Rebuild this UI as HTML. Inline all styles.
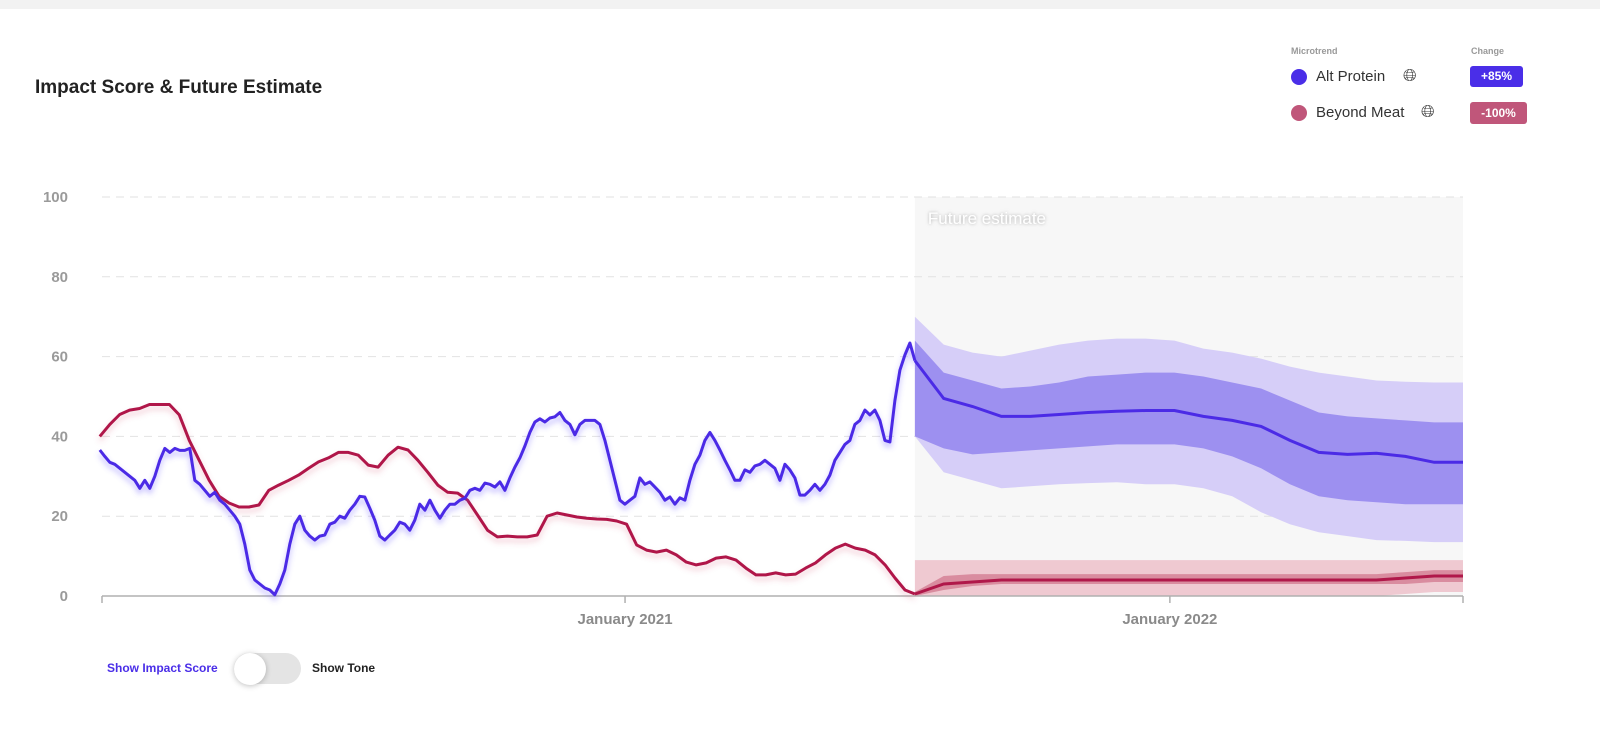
<!DOCTYPE html>
<html><head><meta charset="utf-8">
<style>
body{margin:0;width:1600px;height:733px;background:#fff;font-family:"Liberation Sans",sans-serif;position:relative;overflow:hidden}
.abs{position:absolute}
</style></head><body>
<div class="abs" style="left:0;top:0;width:1600px;height:9px;background:#f2f2f2"></div>
<div class="abs" style="left:35px;top:77px;font-size:19px;font-weight:bold;color:#222">Impact Score &amp; Future Estimate</div>

<div class="abs" style="left:1270px;top:30px;width:300px;height:120px">
  <div class="abs" style="left:21px;top:16px;font-size:9px;color:#999;font-weight:bold">Microtrend</div>
  <div class="abs" style="left:201px;top:16px;font-size:9px;color:#999;font-weight:bold">Change</div>
  <div class="abs" style="left:21px;top:37px;height:20px;width:150px">
    <div class="abs" style="left:0;top:2px;width:16px;height:16px;border-radius:50%;background:#4a2ee8"></div>
    <div class="abs" style="left:25px;top:1px;font-size:15px;color:#333">Alt Protein</div>
    <div class="abs" style="left:112px;top:-1px;font-size:17px;color:#333">🌐︎</div>
  </div>
  <div class="abs" style="left:200px;top:36px;width:53px;height:21px;border-radius:3px;background:#4a2ee8;color:#fff;font-size:12px;font-weight:bold;text-align:center;line-height:21px">+85%</div>
  <div class="abs" style="left:21px;top:73px;height:20px;width:160px">
    <div class="abs" style="left:0;top:2px;width:16px;height:16px;border-radius:50%;background:#c0567a"></div>
    <div class="abs" style="left:25px;top:1px;font-size:15px;color:#333">Beyond Meat</div>
    <div class="abs" style="left:130px;top:-1px;font-size:17px;color:#333">🌐︎</div>
  </div>
  <div class="abs" style="left:200px;top:72px;width:57px;height:22px;border-radius:3px;background:#c0567a;color:#fff;font-size:12px;font-weight:bold;text-align:center;line-height:22px">-100%</div>
</div>

<svg class="abs" id="chart" style="left:0;top:0" width="1600" height="733" xmlns="http://www.w3.org/2000/svg">
<defs>
<filter id="glowB" x="-10%" y="-20%" width="120%" height="140%"><feDropShadow dx="0" dy="4" stdDeviation="3" flood-color="#6a5cff" flood-opacity="0.45"/></filter>
<filter id="glowR" x="-10%" y="-20%" width="120%" height="140%"><feDropShadow dx="0" dy="4" stdDeviation="3" flood-color="#d05070" flood-opacity="0.3"/></filter>
<filter id="ts"><feDropShadow dx="0" dy="0" stdDeviation="1.5" flood-color="#999" flood-opacity="0.8"/></filter>
</defs>
</svg>

<div class="abs" style="left:107px;top:661px;font-size:12px;font-weight:bold;color:#4a2ee8">Show Impact Score</div>
<div class="abs" style="left:234px;top:653px;width:67px;height:31px;border-radius:16px;background:#e4e4e4">
  <div class="abs" style="left:0;top:0;width:32px;height:32px;border-radius:50%;background:#fff;box-shadow:0 1px 6px rgba(0,0,0,0.25)"></div>
</div>
<div class="abs" style="left:312px;top:661px;font-size:12px;font-weight:bold;color:#222">Show Tone</div>

<script>
const yTicks=[0,20,40,60,80,100];
const xTickDates=[2020.04,2021.0,2022.0,2022.538];
const xTickLabels=["","January 2021","January 2022",""];
const histStart=2020.036, futureStart=2021.532, futureEnd=2022.538;
const altProtein=[36.6,35,33.5,33,32,31,30,29,27,29,27,30,34,37,36,37,36.5,36.5,37,29,28,26.5,25,26,24,23,21.5,20,18,13,6.5,4,3,2,1.5,0.3,3,6.5,13,18,20,16.5,15,14,15,15.3,18,18.5,20,19.5,21.5,23,25,24.8,22,19,15,14,15.3,16.5,18.5,18,16.5,19,23,21.5,24,21.5,19.5,21.5,23,23,24,24.5,26.5,27,26.5,28.3,28,27.3,28.6,26.5,29.6,32.3,34.6,37.6,41,43.6,44.4,43.6,44.6,44.9,46,44,43,40.4,43,44,44,44,43,39,34,29,24,23,24,25,29.6,28,28.6,27.3,26,24,24.8,23,24.6,24,29,33,35.3,39,41,39,36.6,34,31.6,29,29,31.6,31,32.6,33,34,33,32,29,33,31.6,29.6,25.3,25.3,26.5,28,26.5,28,30.3,34,36,38,39,43,44,46.6,45.4,46.6,44,39,38.6,49,56.6,60.4,63.4,59];
const beyondMeat=[40,43,45.5,46.6,47,48,48,48,45.4,39,34,29,25,23.3,22.3,22.3,22.8,26.5,27.8,29,30.3,32,33.6,34.6,36,36,35.3,32.8,32.3,35.3,37.3,36.6,34,31,27.8,26,25.8,24,20.3,16.5,14.8,15,14.8,14.8,15.3,20,20.8,20.3,19.8,19.5,19.3,19.2,18.8,18,12.8,11.5,11,11.5,10.3,8.5,7.8,8.3,9.5,9.8,9,7,5.3,5.3,5.8,5.3,5.5,7,8.3,10.3,12,13,12,11.5,10.3,7.8,4.5,1.5,0.5];
const altMedian=[59,49.5,47.5,45,45,45.5,46,46.3,46.5,46.5,45,44,42.5,39,36,35.5,35.8,35,33.5,33.5];
const altInnerHi=[64,56,54,52,52.5,53.5,55,55.5,56,56,55,53.5,52,49,46,45,44.5,44,43.5,43.5];
const altInnerLo=[40,37,35.5,36,36.5,37,37.5,38,38,38,37,35,32,28,25,24,23.5,23,23,23];
const altOuterHi=[70,63,61,60,61.5,63,64,64.5,64.5,64,62,61,59.5,57.5,56,55,54,53.7,53.5,53.5];
const altOuterLo=[40,31,29,27,27.5,28,28.3,28.5,28,28,27,25,21,18,16,15,14,13.8,13.5,13.5];
const bmMedian=[0.5,3,3.5,4,4,4,4,4,4,4,4,4,4,4,4,4,4,4.5,5,5];
const bmInnerHi=[1,5,5.5,5.5,5.5,5.5,5.5,5.5,5.5,5.5,5.5,5.5,5.5,5.5,5.5,5.5,5.5,6,6.5,6.5];
const bmInnerLo=[0,1.5,2.5,3,3,3,3,3,3,3,3,3,3,3,3,3,3,3,3.5,3.5];
const bmOuterHi=[9,9,9,9,9,9,9,9,9,9,9,9,9,9,9,9,9,9,9,9];
const bmOuterLo=[0,0,0,0,0,0,0,0,0,0,0,0,0,0,0,0,0,0.5,1,1];

const X0=102,X1=1463,Y0=596,Y1=197,T0=2020.04,T1=2022.538;
const x=t=>X0+(t-T0)/(T1-T0)*(X1-X0);
const y=v=>Y0-v/100*(Y0-Y1);
const svg=document.getElementById('chart');
const NS='http://www.w3.org/2000/svg';
function mk(tag,attrs){const e=document.createElementNS(NS,tag);for(const k in attrs)e.setAttribute(k,attrs[k]);svg.appendChild(e);return e;}
const tHist=(arr,i)=>histStart+i*(futureStart-histStart)/(arr.length-1);
const tFut=(arr,i)=>futureStart+i*(futureEnd-futureStart)/(arr.length-1);
const linePath=(arr,tf)=>arr.map((v,i)=>(i?'L':'M')+x(tf(arr,i)).toFixed(1)+','+y(v).toFixed(1)).join('');
const bandPath=(hi,lo)=>linePath(hi,tFut)+lo.map((v,i)=>i).reverse().map(i=>'L'+x(tFut(lo,i)).toFixed(1)+','+y(lo[i]).toFixed(1)).join('')+'Z';

const fut=mk('rect',{x:x(futureStart),y:Y1,width:X1-x(futureStart),height:Y0-Y1,fill:'#f7f7f7'});



yTicks.forEach(v=>{
  if(v>0){const g=mk('line',{x1:X0,x2:X1,y1:y(v),y2:y(v),stroke:'#e2e2e2','stroke-width':1,'stroke-dasharray':'8,6'});
  
  }
  const t=mk('text',{x:68,y:y(v)+5,'text-anchor':'end','font-size':15,'font-weight':'bold',fill:'#9a9a9a','font-family':'Liberation Sans, sans-serif'});
  t.textContent=v;
  
  
});

const fl=mk('text',{x:x(futureStart)+13,y:224,'font-size':17,fill:'#fff',filter:'url(#ts)','font-family':'Liberation Sans, sans-serif'});
fl.textContent='Future estimate';



[[altOuterHi,altOuterLo,'#d6cef8','alt-outer-band'],[altInnerHi,altInnerLo,'#9d90f0','alt-inner-band'],[bmOuterHi,bmOuterLo,'#efc9d1','bm-outer-band'],[bmInnerHi,bmInnerLo,'#d98c9f','bm-inner-band']].forEach(b=>{
  const p=mk('path',{d:bandPath(b[0],b[1]),fill:b[2]});
  
  
});

const ax=mk('line',{x1:X0,x2:X1,y1:Y0,y2:Y0,stroke:'#b0b0b0','stroke-width':1.5});


xTickDates.forEach((d,i)=>{
  const tk=mk('line',{x1:x(d),x2:x(d),y1:Y0,y2:Y0+7,stroke:'#b0b0b0','stroke-width':1.5});
  
  
  if(xTickLabels[i]){const t=mk('text',{x:x(d),y:624,'text-anchor':'middle','font-size':15,'font-weight':'bold',fill:'#8a8a8a','font-family':'Liberation Sans, sans-serif'});
  t.textContent=xTickLabels[i];
  
  }
});

const l1=mk('path',{d:linePath(beyondMeat,tHist),fill:'none',stroke:'#b0184a','stroke-width':3,'stroke-linejoin':'round',filter:'url(#glowR)'});


const l2=mk('path',{d:linePath(altProtein,tHist),fill:'none',stroke:'#4b2be6','stroke-width':3,'stroke-linejoin':'round',filter:'url(#glowB)'});


const l3=mk('path',{d:linePath(altMedian,tFut),fill:'none',stroke:'#4b2be6','stroke-width':3});


const l4=mk('path',{d:linePath(bmMedian,tFut),fill:'none',stroke:'#b0184a','stroke-width':3});


</script>
</body></html>
